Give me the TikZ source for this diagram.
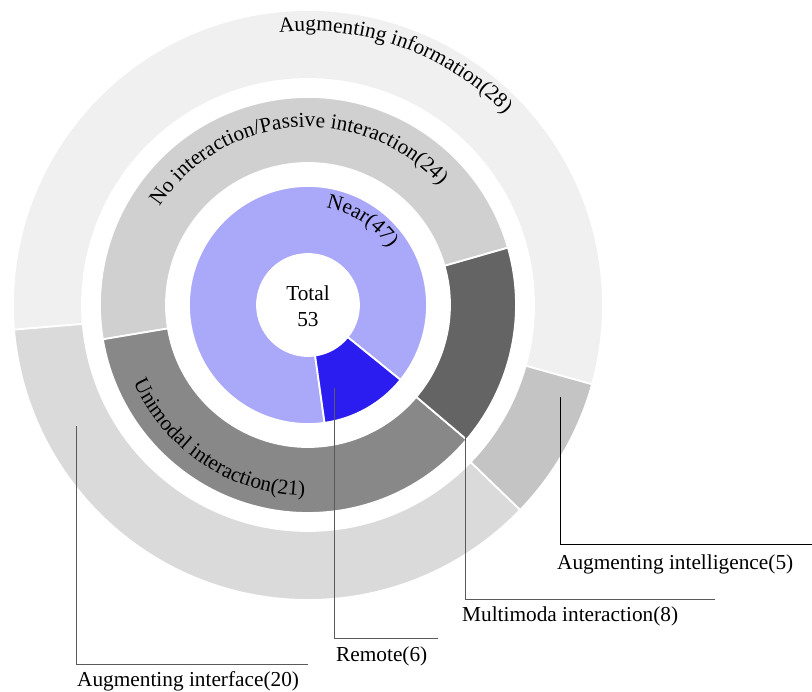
\documentclass[tikz,border=0pt]{standalone}
\usepackage{fontspec}
\setmainfont{Liberation Serif}
\usetikzlibrary{decorations.text}
\definecolor{infogray}{HTML}{F0F0F0}
\definecolor{intelgray}{HTML}{C4C4C4}
\definecolor{ifacegray}{HTML}{DADADA}
\definecolor{passivegray}{HTML}{D0D0D0}
\definecolor{unigray}{HTML}{888888}
\definecolor{multigray}{HTML}{656464}
\definecolor{nearblue}{HTML}{AAA8F8}
\definecolor{remoteblue}{HTML}{2B1DEF}
\definecolor{leadgray}{HTML}{5A5A5A}
\newcommand{\lblfont}{\fontsize{21.3}{26.5}\selectfont}

\begin{document}
\begin{tikzpicture}[x=1pt, y=1pt,
seg/.style={draw=white, line width=1.8pt, fill=#1},
leader/.style={draw=#1, line width=0.9pt},
lbl/.style={anchor=base west, inner sep=0pt, font=\lblfont},
arclabel/.style={decorate, decoration={text along path, text={|\lblfont|#1}}}
]
\fill[white] (-308,-387) rectangle (504,305);
\useasboundingbox (-308,-387) rectangle (504,305);

% Outer ring
\path[seg=infogray] (-15.6:226) arc (-15.6:184.8:226) -- (184.8:295) arc (184.8:-15.6:295) -- cycle;
\path[seg=ifacegray] (184.8:226) arc (184.8:316:226) -- (316:295) arc (316:184.8:295) -- cycle;
\path[seg=intelgray] (-44:226) arc (-44:-15.6:226) -- (-15.6:295) arc (-15.6:-44:295) -- cycle;

% Middle ring
\path[seg=passivegray] (16:142) arc (16:189.5:142) -- (189.5:208) arc (189.5:16:208) -- cycle;
\path[seg=unigray] (189.5:142) arc (189.5:319.7:142) -- (319.7:208) arc (319.7:189.5:208) -- cycle;
\path[seg=multigray] (-40.3:142) arc (-40.3:16:142) -- (16:208) arc (16:-40.3:208) -- cycle;

% Inner ring
\path[seg=nearblue] (-39:51) arc (-39:278:51) -- (278:119) arc (278:-39:119) -- cycle;
\path[seg=remoteblue] (278:51) arc (278:321:51) -- (321:119) arc (321:278:119) -- cycle;

% Ring labels
\path[arclabel={Augmenting information(28)}] (96:274) arc (96:10:274);
\path[arclabel={No interaction/Passive interaction(24)}] (146.5:178) arc (146.5:15:178);
\path[arclabel={Near(47)}] (79.5:99) arc (79.5:0:99);
\path[arclabel={Unimodal interaction(21)}] (204:191) arc (204:300:191);

% Centre
\node[align=center, font=\lblfont, inner sep=0pt] (total) at (0,-1) {Total\\53};

% Leaders
\coordinate (intel-pt) at (252,-92);
\coordinate (intel-end) at (504,-239);
\coordinate (multi-pt) at (157,-132);
\coordinate (multi-end) at (407,-294);
\coordinate (remote-pt) at (26,-83);
\coordinate (remote-end) at (130,-333);
\coordinate (iface-pt) at (-232,-121);
\coordinate (iface-end) at (0,-359);
\draw[leader=black] (intel-pt) |- (intel-end);
\draw[leader=leadgray] (multi-pt) |- (multi-end);
\draw[leader=leadgray] (remote-pt) |- (remote-end);
\draw[leader=leadgray] (iface-pt) |- (iface-end);

% Leader labels
\node[lbl] (intel) at (249,-265) {Augmenting intelligence(5)};
\node[lbl] (multi) at (154,-317) {Multimoda interaction(8)};
\node[lbl] (remote) at (28,-356.7) {Remote(6)};
\node[lbl] (iface) at (-231,-382) {Augmenting interface(20)};

\end{tikzpicture}
\end{document}
